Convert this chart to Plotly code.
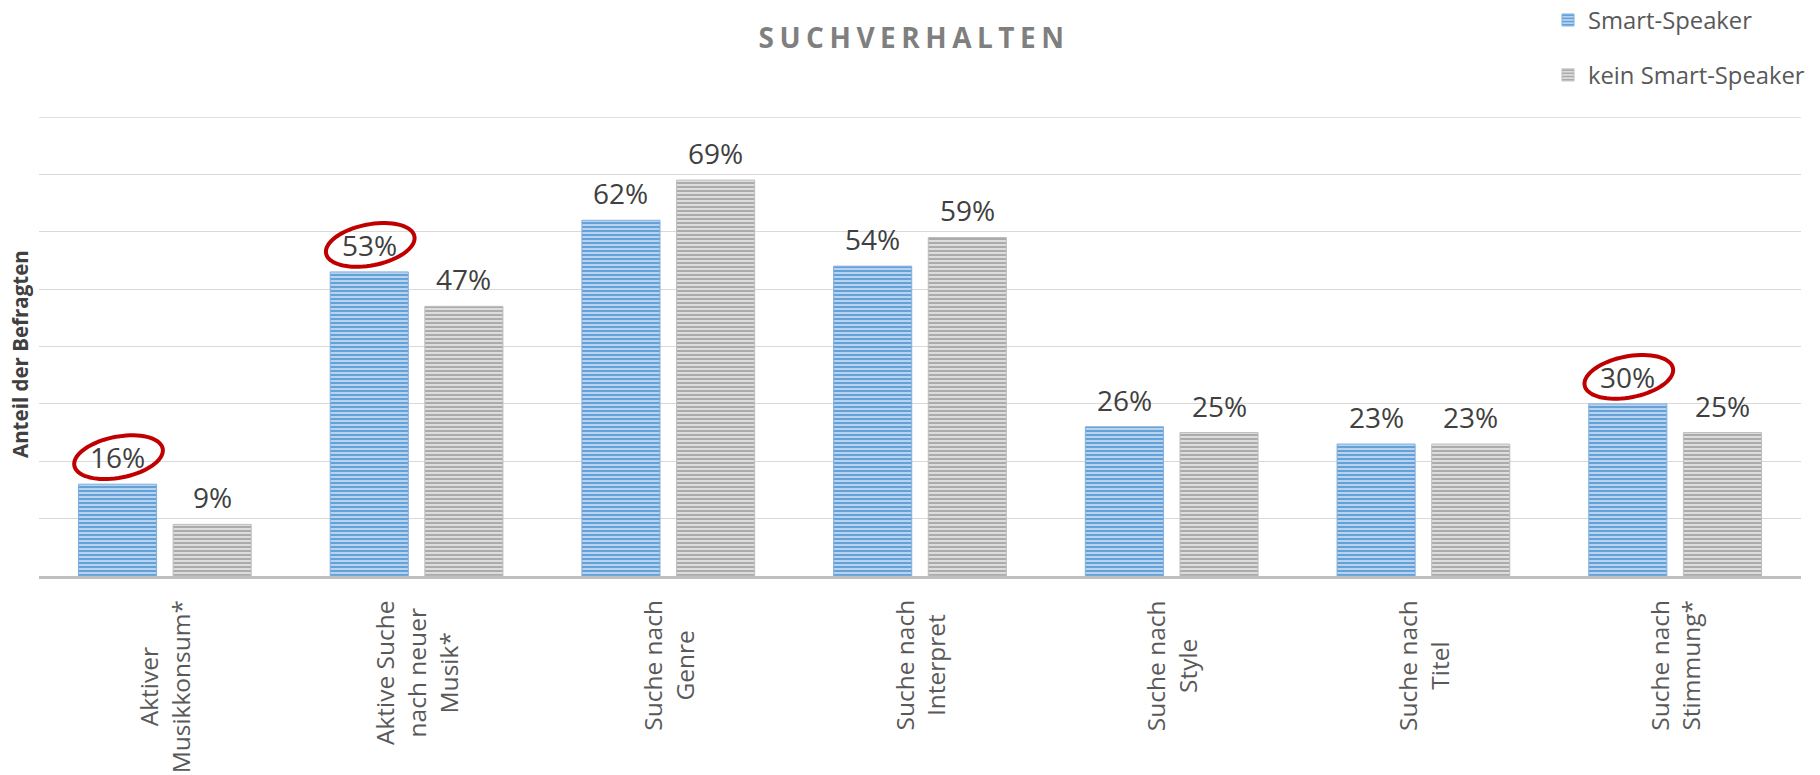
import math
import plotly.graph_objects as go

# ---- data -------------------------------------------------------------
categories = [
    "Aktiver<br>Musikkonsum*",
    "Aktive Suche<br>nach neuer<br>Musik*",
    "Suche nach<br>Genre",
    "Suche nach<br>Interpret",
    "Suche nach<br>Style",
    "Suche nach<br>Titel",
    "Suche nach<br>Stimmung*",
]
smart_speaker = [16, 53, 62, 54, 26, 23, 30]
kein_smart_speaker = [9, 47, 69, 59, 25, 23, 25]
highlighted = [0, 1, 6]  # Smart-Speaker values circled in red

series_names = ["Smart-Speaker", "kein Smart-Speaker"]

# ---- layout constants -------------------------------------------------
W, H = 1820, 775
M_L, M_R, M_T, M_B = 39, 19, 117, 199
Y_MAX = 80
BARGAP = 0.248
BARGROUPGAP = 0.175

plot_w = W - M_L - M_R
plot_h = H - M_T - M_B
px_per_cat = plot_w / len(categories)
px_per_pct = plot_h / Y_MAX
slot = (1 - BARGAP) / 2          # category units per bar slot
offsets = [-slot / 2, slot / 2]  # bar centre offsets inside a group

LABEL_FONT = "Open Sans"
x_idx = list(range(len(categories)))

fig = go.Figure()

fig.add_trace(go.Bar(
    name=series_names[0], x=x_idx, y=smart_speaker, legendgroup="a",
    marker=dict(
        color="#5B9BD5",
        line=dict(color="#7FAEDD", width=1),
        pattern=dict(shape="-", fgcolor="#5B9BD5", bgcolor="#B7D3EF",
                     size=4, solidity=0.45, fillmode="replace"),
    ),
    hoverinfo="skip",
))
fig.add_trace(go.Bar(
    name=series_names[1], x=x_idx, y=kein_smart_speaker, legendgroup="b",
    marker=dict(
        color="#A5A5A5",
        line=dict(color="#BDBDBD", width=1),
        pattern=dict(shape="-", fgcolor="#A5A5A5", bgcolor="#DDDDDD",
                     size=4, solidity=0.45, fillmode="replace"),
    ),
    hoverinfo="skip",
))

annotations = []

# value labels above the bars
for s, values in enumerate([smart_speaker, kein_smart_speaker]):
    for i, v in enumerate(values):
        annotations.append(dict(
            x=i + offsets[s], y=v, xref="x", yref="y",
            text=f"{v}%", showarrow=False,
            xanchor="center", yanchor="middle", yshift=27,
            font=dict(family=LABEL_FONT, size=28, color="#404040"),
        ))

# rotated category labels below the axis
for i, c in enumerate(categories):
    annotations.append(dict(
        x=i, y=-22 / plot_h, xref="x", yref="paper",
        text=c, showarrow=False, textangle=-90, align="center",
        xanchor="center", yanchor="top",
        font=dict(family=LABEL_FONT, size=24.5, color="#595959"),
    ))

# y axis title
annotations.append(dict(
    x=-19 / plot_w, y=(M_T + plot_h - 354) / plot_h,
    xref="paper", yref="paper",
    text="<b>Anteil der Befragten</b>", showarrow=False, textangle=-90,
    xanchor="center", yanchor="middle",
    font=dict(family=LABEL_FONT, size=20.5, color="#404040"),
))

shapes = []

# top gridline at the end of the value range
shapes.append(dict(type="line", xref="paper", yref="y",
                   x0=0, x1=1, y0=Y_MAX, y1=Y_MAX,
                   line=dict(color="#D9D9D9", width=1.3), layer="below"))

# red ellipses around highlighted values
A_PX, B_PX, TILT = 45, 20.5, math.radians(11)
for i in highlighted:
    cx = i + offsets[0] + 1 / px_per_cat
    cy = smart_speaker[i] + 27 / px_per_pct
    pts = []
    for k in range(73):
        t = 2 * math.pi * k / 72
        dx = A_PX * math.cos(t) * math.cos(TILT) - B_PX * math.sin(t) * math.sin(TILT)
        dy = A_PX * math.cos(t) * math.sin(TILT) + B_PX * math.sin(t) * math.cos(TILT)
        pts.append((cx + dx / px_per_cat, cy + dy / px_per_pct))
    path = "M " + " L ".join(f"{x:.5f},{y:.5f}" for x, y in pts) + " Z"
    shapes.append(dict(type="path", path=path, xref="x", yref="y",
                       line=dict(color="#C00000", width=4)))

fig.update_layout(
    width=W, height=H,
    margin=dict(l=M_L, r=M_R, t=M_T, b=M_B, pad=0, autoexpand=False),
    paper_bgcolor="white", plot_bgcolor="white",
    barmode="group", bargap=BARGAP, bargroupgap=BARGROUPGAP,
    title=dict(
        text='<span style="letter-spacing:5.5px">SUCHVERHALTEN</span>',
        x=914 / W, xref="container", xanchor="center",
        y=1 - 38 / H, yref="container", yanchor="middle",
        font=dict(family=LABEL_FONT, size=28, color="#7F7F7F", weight="bold"),
    ),
    legend=dict(
        x=(1548 - M_L) / plot_w, y=1 + (M_T + 2) / plot_h,
        xanchor="left", yanchor="top",
        font=dict(family=LABEL_FONT, size=23.8, color="#595959"),
        tracegroupgap=21, itemwidth=30, bgcolor="rgba(0,0,0,0)",
    ),
    xaxis=dict(
        range=[-0.5, len(categories) - 0.5],
        showticklabels=False, ticks="", showgrid=False,
        showline=True, linecolor="#BFBFBF", linewidth=3,
        zeroline=False, fixedrange=True,
    ),
    yaxis=dict(
        range=[0, Y_MAX], dtick=10, showticklabels=False, ticks="",
        showgrid=True, gridcolor="#D9D9D9", gridwidth=1.3,
        zeroline=False, showline=False, fixedrange=True,
    ),
    annotations=annotations,
    shapes=shapes,
    showlegend=True,
)

fig.write_html("out.html")
